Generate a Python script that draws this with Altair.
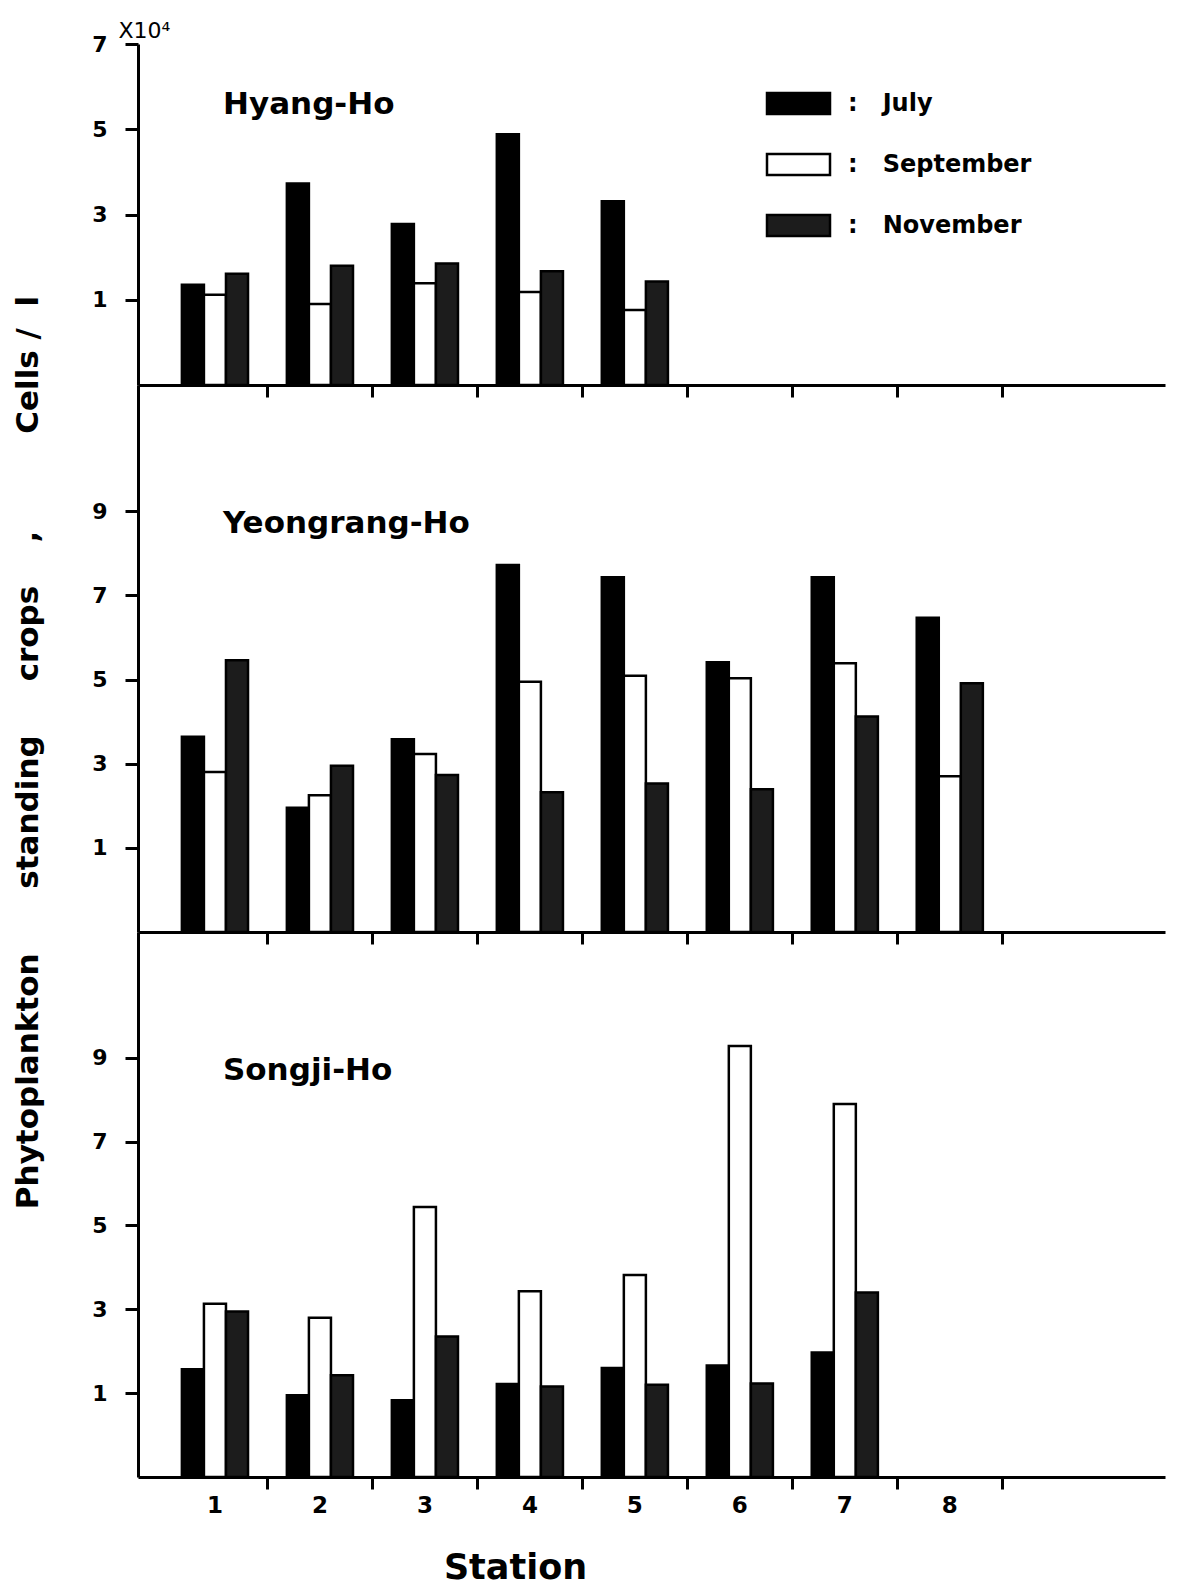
import altair as alt
import pandas as pd

# ---------------- data (units of 10^4 cells/l) ----------
stations = [1, 2, 3, 4, 5, 6, 7, 8]
months = ["July", "September", "November"]
panels = ["Hyang-Ho", "Yeongrang-Ho", "Songji-Ho"]

hyang_july = [1.35, 3.73, 2.78, 4.88, 3.31]
hyang_sep = [1.12, 0.90, 1.39, 1.18, 0.76]
hyang_nov = [1.61, 1.80, 1.85, 1.67, 1.43]

yeong_july = [3.64, 1.95, 3.58, 7.72, 7.43, 5.41, 7.43, 6.47]
yeong_sep = [2.80, 2.25, 3.23, 4.95, 5.09, 5.03, 5.39, 2.70]
yeong_nov = [5.46, 2.95, 2.73, 2.32, 2.53, 2.39, 4.12, 4.91]

songji_july = [1.57, 0.95, 0.83, 1.22, 1.60, 1.66, 1.97]
songji_sep = [3.13, 2.80, 5.44, 3.43, 3.82, 9.28, 7.90]
songji_nov = [2.95, 1.43, 2.35, 1.16, 1.20, 1.23, 3.40]

top_ticks = [1, 3, 5, 7]
low_ticks = [1, 3, 5, 7, 9]
boundary_ticks = [1.5, 2.5, 3.5, 4.5, 5.5, 6.5, 7.5, 8.5]
month_colors = ["#000000", "#ffffff", "#1c1c1c"]

FONT = "DejaVu Sans"
NB = "\u00a0"
Y_TITLE = ("Phytoplankton" + NB * 6 + "standing" + NB * 5 + "crops" + NB * 4 + ","
           + NB * 9 + "Cells" + NB + "/" + NB * 2 + "l")

H_TOP, H_MID, H_BOT = 341, 547, 545


def long_table(panel, jul, sep, nov):
    rows = []
    for mi, (m, vals) in enumerate(zip(months, [jul, sep, nov])):
        for s, v in zip(stations, vals):
            rows.append(dict(panel=panel, station=s, month=m, mi=mi, value=v))
    return pd.DataFrame(rows)


X_SCALE = alt.Scale(domain=[0.267, 10.05], nice=False, zero=False)
FILL_SCALE = alt.Scale(domain=months, range=month_colors)


def x_axis(bottom=False):
    if bottom:
        return alt.Axis(values=boundary_ticks, labels=False, tickSize=12,
                        title="Station", titleX=377, titleY=90,
                        titleAlign="center", titleBaseline="middle",
                        titleFontSize=35)
    return alt.Axis(values=boundary_ticks, labels=False, tickSize=12, title=None)


def panel(df, name, ymax, yaxis, bottom, legend, height, name_y):
    xa = x_axis(bottom)
    bars = alt.Chart(df).transform_calculate(
        x0="datum.station + (datum.mi - 1) * 0.21 - 0.105",
        x1="datum.station + (datum.mi - 1) * 0.21 + 0.105",
        base="-1",
    ).mark_bar(stroke="black", strokeWidth=2.5).encode(
        x=alt.X("x0:Q", scale=X_SCALE, axis=xa),
        x2="x1:Q",
        y=alt.Y("value:Q", scale=alt.Scale(domain=[-1, ymax], nice=False, zero=False),
                axis=yaxis),
        y2="base:Q",
        fill=alt.Fill("month:N", scale=FILL_SCALE, legend=legend),
    )
    label = alt.Chart(pd.DataFrame({"name": [name]})).mark_text(
        align="left", baseline="middle", font=FONT, fontWeight="bold",
        fontSize=31, color="black",
    ).encode(x=alt.value(85), y=alt.value(name_y), text="name:N")
    layers = [bars, label]
    if bottom:
        st = alt.Chart(pd.DataFrame({"station": stations,
                                     "lab": [str(s) for s in stations]})).mark_text(
            font=FONT, fontWeight="bold", fontSize=23, baseline="middle", color="black",
        ).encode(x=alt.X("station:Q", scale=X_SCALE, axis=xa),
                 y=alt.value(height + 29), text="lab:N")
        layers.append(st)
    return alt.layer(*layers).properties(width=1027, height=height)


legend = alt.Legend(
    orient="none", legendX=638, legendY=37, title=None, padding=0,
    symbolType="M-1.5,-0.5L1.5,-0.5L1.5,0.5L-1.5,0.5Z", symbolSize=1764,
    symbolStrokeColor="black", symbolStrokeWidth=2.5,
    labelFont=FONT, labelFontSize=24, labelFontWeight="bold", labelColor="black",
    labelOffset=27, rowPadding=23, labelLimit=400,
    labelExpr="':" + NB * 3 + "' + datum.label",
)

top_axis = alt.Axis(values=top_ticks, title="X10\u2074", titleAngle=0, titleX=-20,
                    titleY=-7, titleAlign="left", titleBaseline="alphabetic",
                    titleFontWeight="normal", titleFontSize=22,
                    tickSize=13, labelPadding=18)
mid_axis = alt.Axis(values=low_ticks, title=Y_TITLE, titleAngle=270, titleX=-110,
                    titleY=367, titleAlign="center", titleBaseline="middle",
                    titleFontSize=31, tickSize=13, labelPadding=18)
bot_axis = alt.Axis(values=low_ticks, title=None, tickSize=13, labelPadding=18)

top = panel(long_table(panels[0], hyang_july, hyang_sep, hyang_nov), panels[0], 7,
            top_axis, False, legend, H_TOP, 61)
mid = panel(long_table(panels[1], yeong_july, yeong_sep, yeong_nov), panels[1], 12,
            mid_axis, False, None, H_MID, 139)
bot = panel(long_table(panels[2], songji_july, songji_sep, songji_nov), panels[2], 12,
            bot_axis, True, None, H_BOT, 139)

chart = alt.vconcat(top, mid, bot, spacing=0, bounds="flush").resolve_scale(
    y="independent", fill="independent"
).properties(
    padding={"left": 3, "top": 11, "right": 5, "bottom": 0},
    background="white",
).configure_view(stroke=None).configure_axis(
    domainColor="black", domainWidth=3, tickColor="black", tickWidth=3,
    labelColor="black", labelFont=FONT, labelFontSize=22, labelFontWeight="bold",
    titleFont=FONT, titleFontWeight="bold", titleColor="black", grid=False,
)

chart.save("out.html", embed_options={"renderer": "svg", "actions": False})
